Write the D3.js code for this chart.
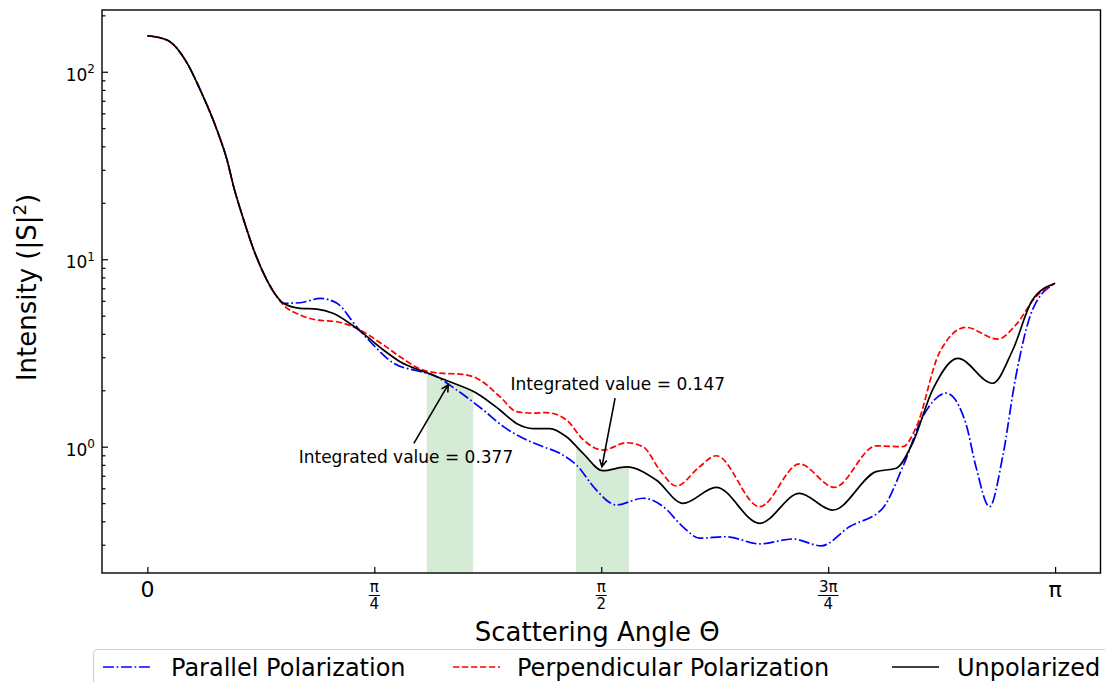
<!DOCTYPE html>
<html>
<head>
<meta charset="utf-8">
<script src="https://cdn.jsdelivr.net/npm/d3@7"></script>
<style>
body { margin: 0; background: #fff; }
svg { font-family: "DejaVu Sans", sans-serif; }
</style>
</head>
<body>
<div id="chart"></div>
<script>
// values: angle in degrees, intensity |S|^2
const parallelAngle = [0, 3.9, 7.9, 10.5, 13.8, 15.8, 17.1, 19.1, 21.1, 23.7, 25.7, 27.0, 30.3, 34.3, 37.6, 41.5, 44.8, 48.8, 53.4, 56.7, 61.3, 66.6, 70.6, 74.5, 78.5, 81.8, 85.1, 89.0, 93.0, 98.3, 102.3, 106.2, 109.5, 114.8, 121.4, 128.0, 133.6, 139.2, 145.8, 149.8, 153.8, 158.4, 162.3, 164.3, 167.0, 169.6, 172.2, 175.5, 180];
const parallelValue = [155.6, 147.6, 110.9, 79.8, 48.9, 33.8, 24.4, 16.2, 11.2, 7.74, 6.31, 5.82, 5.86, 6.18, 5.82, 4.36, 3.49, 2.79, 2.54, 2.41, 2.01, 1.57, 1.28, 1.11, 1.0, 0.922, 0.798, 0.588, 0.489, 0.531, 0.479, 0.374, 0.325, 0.331, 0.303, 0.322, 0.296, 0.374, 0.469, 0.782, 1.45, 1.93, 1.33, 0.782, 0.479, 0.885, 2.36, 5.36, 7.44];

const perpAngle = [0, 3.9, 7.9, 10.5, 13.8, 15.8, 17.1, 19.1, 21.1, 23.7, 25.7, 27.0, 30.3, 33.6, 37.6, 41.5, 46.8, 50.1, 54.7, 58.7, 62.0, 65.3, 69.9, 73.2, 76.5, 79.1, 83.1, 86.4, 90.4, 95.0, 98.3, 101.6, 104.9, 109.5, 112.8, 121.4, 129.3, 136.2, 144.5, 149.8, 152.5, 157.0, 162.3, 168.6, 172.2, 176.2, 180];
const perpValue = [155.6, 147.6, 110.9, 79.8, 48.9, 33.8, 24.4, 16.2, 11.2, 7.74, 6.31, 5.70, 5.04, 4.74, 4.64, 4.28, 3.49, 3.02, 2.56, 2.46, 2.44, 2.32, 1.85, 1.54, 1.51, 1.52, 1.39, 1.09, 0.96, 1.05, 1.0, 0.751, 0.617, 0.782, 0.895, 0.479, 0.809, 0.607, 1.01, 1.0, 1.28, 3.15, 4.33, 3.75, 4.46, 6.31, 7.44];

const unpolAngle = [0, 3.9, 7.9, 10.5, 13.8, 15.8, 17.1, 19.1, 21.1, 23.7, 25.7, 27.0, 30.3, 33.6, 36.9, 41.5, 46.8, 50.1, 55.4, 60.0, 65.3, 69.9, 73.2, 76.5, 79.8, 83.1, 86.4, 90.3, 95.0, 100.9, 106.2, 112.8, 121.4, 129.3, 135.9, 144.5, 148.5, 151.7, 155.7, 160.7, 167.6, 171.6, 175.5, 180];
const unpolValue = [155.6, 147.6, 110.9, 79.8, 48.9, 33.8, 24.4, 16.2, 11.2, 7.74, 6.31, 5.82, 5.47, 5.42, 5.14, 4.28, 3.28, 2.84, 2.48, 2.22, 1.93, 1.57, 1.33, 1.25, 1.25, 1.13, 0.922, 0.745, 0.78, 0.664, 0.499, 0.607, 0.390, 0.564, 0.459, 0.736, 0.767, 1.04, 2.01, 2.96, 2.18, 3.28, 6.06, 7.44];

// shaded integration ranges (degrees)
const bandStart = [55.4, 85];
const bandEnd = [64.6, 95.5];

// annotations
const noteText = ["Integrated value = 0.377", "Integrated value = 0.147"];
const notePoint = [[60, 2.22], [90, 0.75]];
const noteTextPos = [[30, 0.82], [72, 2.0]];

const xTicks = [0, 45, 90, 135, 180];
const xTickLabels = ["0", "π/4", "π/2", "3π/4", "π"];
const yMajor = [1, 10, 100];
const yMinor = [0.3, 0.4, 0.5, 0.6, 0.7, 0.8, 0.9, 2, 3, 4, 5, 6, 7, 8, 9, 20, 30, 40, 50, 60, 70, 80, 90, 200];

const legendNames = ["Parallel Polarization", "Perpendicular Polarization", "Unpolarized"];

const W = 1105, H = 682;
const m = {left: 102, right: 1100.5, top: 10, bottom: 573};

const svg = d3.select("#chart").append("svg")
    .attr("width", W).attr("height", H);

const x = d3.scaleLinear().domain([-9, 189]).range([m.left, m.right]);
const y = d3.scaleLog().domain([0.212, 213.5]).range([m.bottom, m.top]);

const zip = (a, v) => a.map((d, i) => [d, v[i]]);
const series = [
  {data: zip(parallelAngle, parallelValue), color: "#0000ff", dash: "10.9,2.7,1.7,2.7"},
  {data: zip(perpAngle, perpValue), color: "#ff0000", dash: "6.3,2.7"},
  {data: zip(unpolAngle, unpolValue), color: "#000000", dash: null}
];

const defs = svg.append("defs");
defs.append("clipPath").attr("id", "plotclip").append("rect")
    .attr("x", m.left).attr("y", m.top)
    .attr("width", m.right - m.left).attr("height", m.bottom - m.top);

// shaded bands under the unpolarized curve
const area = d3.area()
    .x(d => x(d[0])).y0(m.bottom).y1(d => y(d[1]))
    .curve(d3.curveMonotoneX);

bandStart.forEach((b, i) => {
  defs.append("clipPath").attr("id", "band" + i).append("rect")
      .attr("x", x(b)).attr("y", m.top)
      .attr("width", x(bandEnd[i]) - x(b)).attr("height", m.bottom - m.top);
  svg.append("path")
      .attr("d", area(series[2].data))
      .attr("clip-path", "url(#band" + i + ")")
      .attr("fill", "green").attr("fill-opacity", 0.16);
});

// curves
const line = d3.line()
    .x(d => x(d[0])).y(d => y(d[1]))
    .curve(d3.curveMonotoneX);

const g = svg.append("g").attr("clip-path", "url(#plotclip)");
series.forEach(s => {
  g.append("path")
      .attr("d", line(s.data))
      .attr("fill", "none")
      .attr("stroke", s.color)
      .attr("stroke-width", 1.7)
      .attr("stroke-dasharray", s.dash);
});

// axes: ticks pointing inward
const xAxis = svg.append("g")
    .attr("transform", "translate(0," + m.bottom + ")")
    .call(d3.axisBottom(x).tickValues(xTicks).tickSizeInner(-6).tickSizeOuter(0).tickFormat(""));
const yAxis = svg.append("g")
    .attr("transform", "translate(" + m.left + ",0)")
    .call(d3.axisLeft(y).tickValues(yMajor).tickSizeInner(-6).tickSizeOuter(0).tickFormat(""));
const yAxisMinor = svg.append("g")
    .attr("transform", "translate(" + m.left + ",0)")
    .call(d3.axisLeft(y).tickValues(yMinor).tickSizeInner(-3.5).tickSizeOuter(0).tickFormat(""));
[xAxis, yAxis, yAxisMinor].forEach(a => {
  a.select(".domain").remove();
  a.selectAll(".tick line").attr("stroke", "#000").attr("stroke-width", 1.2);
});

// x tick labels (fractions of pi)
xTicks.forEach((t, i) => {
  const lab = xTickLabels[i];
  const cx = x(t);
  if (lab.indexOf("/") < 0) {
    svg.append("text").attr("x", cx).attr("y", 597)
        .attr("text-anchor", "middle").attr("font-size", 22).text(lab);
  } else {
    const parts = lab.split("/");
    const num = svg.append("text").attr("x", cx).attr("y", 592)
        .attr("text-anchor", "middle").attr("font-size", 15).text(parts[0]);
    svg.append("text").attr("x", cx).attr("y", 609)
        .attr("text-anchor", "middle").attr("font-size", 15).text(parts[1]);
    const w = Math.max(num.node().getComputedTextLength(), 8) + 2;
    svg.append("line")
        .attr("x1", cx - w / 2).attr("x2", cx + w / 2)
        .attr("y1", 595.5).attr("y2", 595.5)
        .attr("stroke", "#000").attr("stroke-width", 1);
  }
});

// y tick labels 10^n
yMajor.forEach(v => {
  const t = svg.append("text")
      .attr("x", 95).attr("y", y(v) + 9)
      .attr("text-anchor", "end").attr("font-size", 17)
      .attr("fill", "#000");
  t.append("tspan").text("10");
  t.append("tspan").attr("dy", -7.5).attr("font-size", 12).text(Math.round(Math.log10(v)));
});

// frame
svg.append("rect")
    .attr("x", m.left).attr("y", m.top)
    .attr("width", m.right - m.left).attr("height", m.bottom - m.top)
    .attr("fill", "none").attr("stroke", "#000").attr("stroke-width", 1.4);

// axis labels
svg.append("text")
    .attr("x", (m.left + m.right) / 2 - 4).attr("y", 641)
    .attr("text-anchor", "middle").attr("font-size", 26)
    .text("Scattering Angle Θ");

const yl = svg.append("text")
    .attr("transform", "translate(35.5," + ((m.top + m.bottom) / 2 - 4) + ") rotate(-90)")
    .attr("text-anchor", "middle").attr("font-size", 26);
yl.append("tspan").text("Intensity (|S|");
yl.append("tspan").attr("dy", -10).attr("font-size", 18).text("2");
yl.append("tspan").attr("dy", 10).text(")");

// annotations with arrows
noteText.forEach((txt, i) => {
  const t = svg.append("text")
      .attr("x", x(noteTextPos[i][0])).attr("y", y(noteTextPos[i][1]))
      .attr("font-size", 17).attr("fill", "#000").text(txt);
  const bb = t.node().getBBox();
  const cx = bb.x + bb.width / 2, cy = bb.y + bb.height / 2;
  const hx = x(notePoint[i][0]), hy = y(notePoint[i][1]);
  let dx = hx - cx, dy = hy - cy;
  const k = Math.min((bb.width / 2) / Math.abs(dx || 1e-9), (bb.height / 2) / Math.abs(dy || 1e-9));
  let sx = cx + dx * k, sy = cy + dy * k;
  const L = Math.hypot(hx - sx, hy - sy), ux = (hx - sx) / L, uy = (hy - sy) / L;
  sx += ux * 4; sy += uy * 4;
  const ex = hx - ux * 3.4, ey = hy - uy * 3.4;
  const bx = ex - ux * 7, by = ey - uy * 7;
  const hw = 3.6;
  svg.append("path")
      .attr("d", "M" + sx + "," + sy + "L" + ex + "," + ey +
                 "M" + (bx - uy * hw) + "," + (by + ux * hw) + "L" + ex + "," + ey +
                 "L" + (bx + uy * hw) + "," + (by - ux * hw))
      .attr("fill", "none").attr("stroke", "#000").attr("stroke-width", 1.6);
});

// legend below the plot
const lg = svg.append("g");
lg.append("rect")
    .attr("x", 93.5).attr("y", 649.5).attr("width", 1030).attr("height", 60)
    .attr("rx", 4).attr("fill", "#fff").attr("stroke", "#d0d0d0").attr("stroke-width", 1.2);
const sampleX = [103, 453, 892];
const labelX = [171, 517, 957];
series.forEach((s, i) => {
  lg.append("line")
      .attr("x1", sampleX[i]).attr("x2", sampleX[i] + 47)
      .attr("y1", 667).attr("y2", 667)
      .attr("stroke", s.color).attr("stroke-width", 1.7)
      .attr("stroke-dasharray", s.dash);
  lg.append("text")
      .attr("x", labelX[i]).attr("y", 675.5)
      .attr("font-size", 24).attr("fill", "#000")
      .text(legendNames[i]);
});
</script>
</body>
</html>
